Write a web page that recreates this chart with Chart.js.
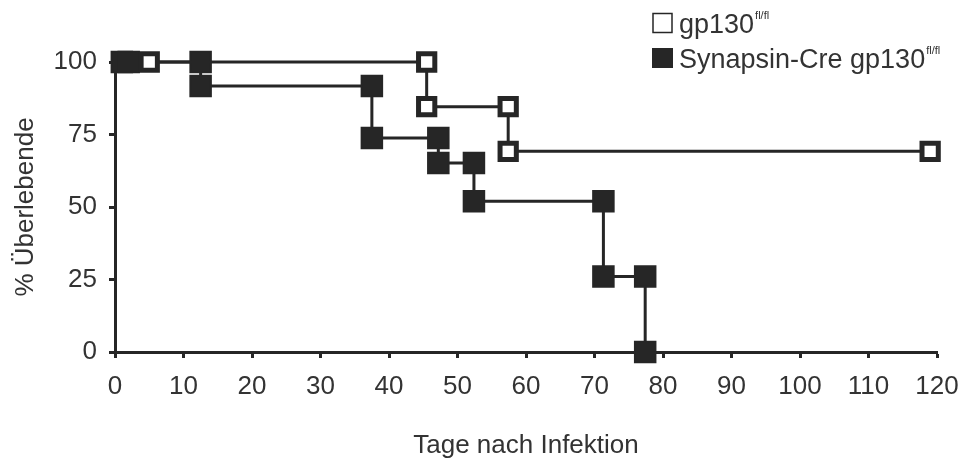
<!DOCTYPE html>
<html>
<head>
<meta charset="utf-8">
<script src="https://cdn.jsdelivr.net/npm/chart.js@4"></script>
<style>
  html, body { margin: 0; padding: 0; background: #fff; }
</style>
</head>
<body>
<canvas id="survChart" width="962" height="461"></canvas>
<script>
// series names (legend), both with the superscript genotype tag
const seriesNames = ["gp130", "Synapsin-Cre gp130"];
const genotypeTag = "fl/fl";

// gp130 fl/fl (open squares)
const wtDays = [5, 45.5, 45.5, 57.4, 57.4, 119];
const wtSurvival = [100, 100, 84.6, 84.6, 69.2, 69.2];

// Synapsin-Cre gp130 fl/fl (filled squares)
const creDays = [1, 2, 12.5, 12.5, 37.5, 37.5, 47.2, 47.2, 52.4, 52.4, 71.3, 71.3, 77.4, 77.4];
const creSurvival = [100, 100, 100, 91.7, 91.7, 73.8, 73.8, 65.2, 65.2, 52, 52, 26, 26, 0];

// tick labels
const xTicks = [0, 10, 20, 30, 40, 50, 60, 70, 80, 90, 100, 110, 120];
const yTicks = [0, 25, 50, 75, 100];

const ink = "#262626";
const textColor = "#333333";
const fontFamily = "'Liberation Sans', Arial, Helvetica, sans-serif";

function toPoints(xs, ys) {
  return xs.map((x, i) => ({ x: x, y: ys[i] }));
}

// legend drawn by hand so the "fl/fl" can sit as a superscript
const supLegend = {
  id: "supLegend",
  afterDraw(chart) {
    const ctx = chart.ctx;
    const rows = [
      { name: seriesNames[0], filled: false, top: 13 },
      { name: seriesNames[1], filled: true, top: 48 }
    ];
    ctx.save();
    rows.forEach((r) => {
      if (r.filled) {
        ctx.fillStyle = ink;
        ctx.fillRect(652, r.top, 21, 20);
      } else {
        ctx.strokeStyle = ink;
        ctx.lineWidth = 1.5;
        ctx.strokeRect(653, r.top + 0.5, 19, 19);
      }
      ctx.fillStyle = textColor;
      ctx.textBaseline = "alphabetic";
      ctx.textAlign = "left";
      ctx.font = "27px " + fontFamily;
      const base = r.top + 20;
      ctx.fillText(r.name, 679, base);
      const w = ctx.measureText(r.name).width;
      ctx.font = "11px " + fontFamily;
      ctx.fillText(genotypeTag, 679 + w + 1, base - 14);
    });
    ctx.restore();
  }
};

const ctx = document.getElementById("survChart").getContext("2d");

const survChart = new Chart(ctx, {
  type: "line",
  data: {
    datasets: [
      {
        label: seriesNames[0],
        data: toPoints(wtDays, wtSurvival),
        borderColor: ink,
        borderWidth: 3,
        pointStyle: "rect",
        pointRadius: 11.5,
        pointBorderWidth: 5,
        pointBackgroundColor: "#ffffff",
        pointBorderColor: ink,
        tension: 0,
        clip: false,
        order: 0
      },
      {
        label: seriesNames[1],
        data: toPoints(creDays, creSurvival),
        borderColor: ink,
        borderWidth: 3,
        pointStyle: "rect",
        pointRadius: 14.5,
        pointBorderWidth: 2,
        pointBackgroundColor: ink,
        pointBorderColor: ink,
        tension: 0,
        clip: false,
        order: 1
      }
    ]
  },
  options: {
    responsive: false,
    animation: false,
    devicePixelRatio: 1,
    layout: { padding: { top: 62, right: 25, bottom: 0, left: 0 } },
    plugins: {
      legend: { display: false },
      tooltip: { enabled: false }
    },
    scales: {
      x: {
        type: "linear",
        min: 0,
        max: 120,
        afterBuildTicks: (axis) => { axis.ticks = xTicks.map((v) => ({ value: v })); },
        afterFit: (axis) => {
          axis.height = 109;
          axis.paddingLeft = 0;
          axis.paddingRight = 0;
        },
        border: { display: true, color: ink, width: 3 },
        grid: { drawOnChartArea: false, drawTicks: true, tickLength: 6, tickWidth: 3, tickColor: ink },
        ticks: { color: textColor, padding: 13, font: { family: fontFamily, size: 26 }, maxRotation: 0 },
        title: {
          display: true,
          text: "Tage nach Infektion",
          color: textColor,
          font: { family: fontFamily, size: 26 },
          padding: { top: 0, bottom: 0 }
        }
      },
      y: {
        type: "linear",
        min: 0,
        max: 100,
        afterBuildTicks: (axis) => { axis.ticks = yTicks.map((v) => ({ value: v })); },
        afterFit: (axis) => {
          axis.width = 115;
          axis.paddingTop = 0;
          axis.paddingBottom = 0;
        },
        border: { display: true, color: ink, width: 3 },
        grid: { drawOnChartArea: false, drawTicks: true, tickLength: 6, tickWidth: 3, tickColor: ink },
        ticks: { color: textColor, padding: 12, font: { family: fontFamily, size: 26 } },
        title: {
          display: true,
          text: "% Überlebende",
          color: textColor,
          font: { family: fontFamily, size: 26 },
          padding: { top: 10, bottom: 0 }
        }
      }
    }
  },
  plugins: [supLegend]
});
</script>
</body>
</html>
